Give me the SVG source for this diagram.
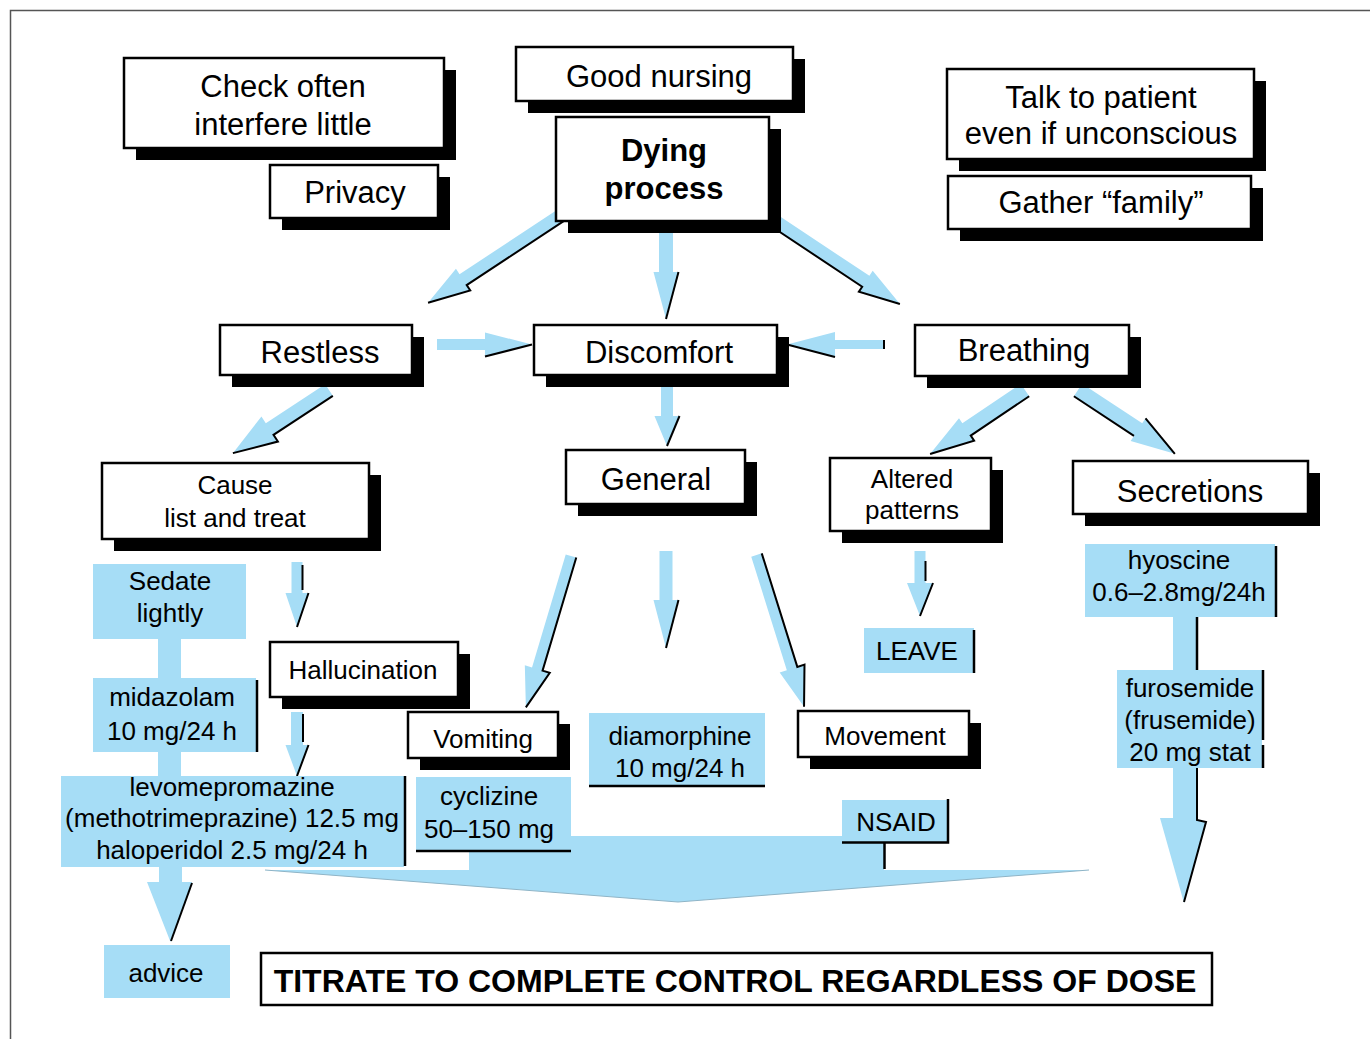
<svg xmlns="http://www.w3.org/2000/svg" width="1370" height="1039" viewBox="0 0 1370 1039">
<style>
.bx{fill:#fff;stroke:#000;stroke-width:2.5}
.sh{fill:#000}
.bl{fill:#a6ddf6}
.ar{fill:#a6ddf6}
.bk{fill:none;stroke:#000;stroke-width:2}
.ed{stroke:#000;stroke-width:2.5;fill:none}
.t{font-family:"Liberation Sans",Arial,Helvetica,sans-serif;text-anchor:middle;fill:#000}
.f31{font-size:31px}
.f26{font-size:26px}
.b{font-weight:bold}
</style>
<rect width="1370" height="1039" fill="#fff"/>
<path d="M1370,10.5 H10.5 V1039" fill="none" stroke="#555" stroke-width="1.5"/>

<g id="connectors">
  <!-- big bottom arrow -->
  <path class="ar" d="M469,836 H884 V870 H1089 L678,902 L265,870 H469 Z"/>
  <path d="M265,870 L678,902 L1089,870" fill="none" stroke="#8fb4c6" stroke-width="1"/>
  <line class="ed" x1="884.5" y1="842" x2="884.5" y2="869"/>

  <!-- drug column bars -->
  <rect class="bl" x="158" y="636" width="23" height="44"/>
  <rect class="bl" x="158" y="750" width="23" height="28"/>
  <path class="ar" d="M159,864 H182 V882 H192 L170.5,942 L147,882 H159 Z"/>
  <path class="bk" d="M192,883 L171,941"/>
  <rect class="bl" x="1173" y="615" width="24" height="58"/>
  <line class="ed" x1="1197" y1="617" x2="1197" y2="670"/>
  <path class="ar" d="M1173,766 H1197 V820 L1206,822 L1184,903 L1160,818 H1173 Z"/>
  <path class="bk" d="M1197,768 V820 L1206,822 L1184,902"/>

  <!-- Dying -> Restless -->
  <g transform="translate(590,196) rotate(146.6)">
    <path class="ar" d="M0,-6.5 H152 V-13 L194,0 L152,13 V6.5 H0 Z"/>
    <path class="bk" d="M0,-6.5 H152 V-13 L194,0"/>
  </g>
  <!-- Dying -> Discomfort -->
  <g transform="translate(666,225) rotate(90)">
    <path class="ar" d="M0,-7 H47 V-12.5 L94,0 L47,12.5 V7 H0 Z"/>
    <path class="bk" d="M47,-12.5 L94,0"/>
  </g>
  <!-- Dying -> Breathing -->
  <g transform="translate(760,211) rotate(33.6)">
    <path class="ar" d="M0,-6.5 H127 V-12.5 L168,0 L127,12.5 V6.5 H0 Z"/>
    <path class="bk" d="M0,6.5 H127 V12.5 L168,0" stroke-width="1.5"/>
  </g>
  <!-- Restless -> Discomfort -->
  <g transform="translate(437,344.5)">
    <path class="ar" d="M0,-5.5 H48 V-12 L95,0 L48,12 V5.5 H0 Z"/>
    <path class="bk" d="M48,12 L95,0"/>
  </g>
  <!-- Breathing -> Discomfort -->
  <g transform="translate(884,344.5) rotate(180)">
    <path class="ar" d="M0,-4.5 H49 V-12.5 L97,0 L49,12.5 V4.5 H0 Z"/>
    <path class="bk" d="M49,-12.5 L97,0 M0,-4.5 V4.5"/>
  </g>
  <!-- Discomfort -> General -->
  <g transform="translate(667,380) rotate(90)">
    <path class="ar" d="M0,-6 H36 V-12.5 L66,0 L36,12.5 V6 H0 Z"/>
    <path class="bk" d="M36,-12.5 L66,0"/>
  </g>
  <!-- Restless -> Cause -->
  <g transform="translate(329,390) rotate(146.7)">
    <path class="ar" d="M0,-7 H71 V-15 L115,0 L71,15 V7 H0 Z"/>
    <path class="bk" d="M0,-7 H71 V-15 L115,0"/>
  </g>
  <!-- Cause -> Hallucination -->
  <g transform="translate(297,562) rotate(90)">
    <path class="ar" d="M0,-5.5 H31 V-11.5 L65,0 L31,11.5 V5.5 H0 Z"/>
    <path class="bk" d="M3,-5.5 H28 M31,-11.5 L65,0"/>
  </g>
  <!-- Hallucination -> levomepromazine -->
  <g transform="translate(297,712) rotate(90)">
    <path class="ar" d="M0,-6 H33 V-11.5 L64,0 L33,11.5 V6 H0 Z"/>
    <path class="bk" d="M2,-6 H30 M33,-11.5 L64,0"/>
  </g>
  <!-- General -> Vomiting -->
  <g transform="translate(571,556) rotate(106.6)">
    <path class="ar" d="M0,-5.5 H118 V-13 L158,0 L118,13 V5.5 H0 Z"/>
    <path class="bk" d="M0,-5.5 H118 V-13 L158,0"/>
  </g>
  <!-- General -> diamorphine -->
  <g transform="translate(666,551) rotate(90)">
    <path class="ar" d="M0,-6.5 H49 V-12.5 L97,0 L49,12.5 V6.5 H0 Z"/>
    <path class="bk" d="M49,-12.5 L97,0"/>
  </g>
  <!-- General -> Movement -->
  <g transform="translate(756.5,555) rotate(72.6)">
    <path class="ar" d="M0,-5.5 H119 V-13 L159,0 L119,13 V5.5 H0 Z"/>
    <path class="bk" d="M0,-5.5 H119 V-13 L159,0"/>
  </g>
  <!-- Breathing -> Altered -->
  <g transform="translate(1025,390) rotate(146)">
    <path class="ar" d="M0,-7.5 H70.5 V-13.5 L114.5,0 L70.5,13.5 V7.5 H0 Z"/>
    <path class="bk" d="M0,-7.5 H70.5 V-13.5 L114.5,0"/>
  </g>
  <!-- Breathing -> Secretions -->
  <g transform="translate(1078,390) rotate(33.4)">
    <path class="ar" d="M0,-7.5 H72 V-13.5 L116,0 L72,13.5 V7.5 H0 Z"/>
    <path class="bk" d="M0,7.5 H72 M72,-13.5 L116,0"/>
  </g>
  <!-- Altered -> LEAVE -->
  <g transform="translate(920,551) rotate(90)">
    <path class="ar" d="M0,-5.5 H32 V-13 L65,0 L32,13 V5.5 H0 Z"/>
    <path class="bk" d="M10,-5.5 H30 M32,-13 L65,0"/>
  </g>
</g>

<g id="n-check"><rect class="sh" x="136" y="70" width="320" height="90"/><rect class="bx" x="124" y="58" width="320" height="90"/>
  <text class="t f31" x="283" y="97">Check often</text><text class="t f31" x="283" y="135">interfere little</text></g>
<g id="n-privacy"><rect class="sh" x="282" y="177" width="168" height="53"/><rect class="bx" x="270" y="165" width="168" height="53"/>
  <text class="t f31" x="355" y="203">Privacy</text></g>
<g id="n-good"><rect class="sh" x="528" y="59" width="277" height="54"/><rect class="bx" x="516" y="47" width="277" height="54"/>
  <text class="t f31" x="659" y="87">Good nursing</text></g>
<g id="n-dying"><rect class="sh" x="568" y="129" width="213" height="104"/><rect class="bx" x="556" y="117" width="213" height="104"/>
  <text class="t f31 b" x="664" y="161">Dying</text><text class="t f31 b" x="664" y="199">process</text></g>
<g id="n-talk"><rect class="sh" x="959" y="81" width="307" height="90"/><rect class="bx" x="947" y="69" width="307" height="90"/>
  <text class="t f31" x="1101" y="108">Talk to patient</text><text class="t f31" x="1101" y="144">even if unconscious</text></g>
<g id="n-gather"><rect class="sh" x="960" y="188" width="303" height="53"/><rect class="bx" x="948" y="176" width="303" height="53"/>
  <text class="t f31" x="1101" y="213">Gather “family”</text></g>
<g id="n-restless"><rect class="sh" x="232" y="337" width="192" height="50"/><rect class="bx" x="220" y="325" width="192" height="50"/>
  <text class="t f31" x="320" y="363">Restless</text></g>
<g id="n-discomfort"><rect class="sh" x="546" y="337" width="243" height="50"/><rect class="bx" x="534" y="325" width="243" height="50"/>
  <text class="t f31" x="659" y="363">Discomfort</text></g>
<g id="n-breathing"><rect class="sh" x="927" y="337" width="214" height="51"/><rect class="bx" x="915" y="325" width="214" height="51"/>
  <text class="t f31" x="1024" y="361">Breathing</text></g>
<g id="n-cause"><rect class="sh" x="114" y="475" width="267" height="76"/><rect class="bx" x="102" y="463" width="267" height="76"/>
  <text class="t f26" x="235" y="494">Cause</text><text class="t f26" x="235" y="527">list and treat</text></g>
<g id="n-general"><rect class="sh" x="578" y="462" width="179" height="54"/><rect class="bx" x="566" y="450" width="179" height="54"/>
  <text class="t f31" x="656" y="490">General</text></g>
<g id="n-altered"><rect class="sh" x="842" y="470" width="161" height="73"/><rect class="bx" x="830" y="458" width="161" height="73"/>
  <text class="t f26" x="912" y="488">Altered</text><text class="t f26" x="912" y="519">patterns</text></g>
<g id="n-secretions"><rect class="sh" x="1085" y="473" width="235" height="53"/><rect class="bx" x="1073" y="461" width="235" height="53"/>
  <text class="t f31" x="1190" y="502">Secretions</text></g>
<g id="n-halluc"><rect class="sh" x="282" y="654" width="188" height="55"/><rect class="bx" x="270" y="642" width="188" height="55"/>
  <text class="t f26" x="363" y="679">Hallucination</text></g>
<g id="n-vomiting"><rect class="sh" x="420" y="724" width="150" height="46"/><rect class="bx" x="408" y="712" width="150" height="46"/>
  <text class="t f26" x="483" y="748">Vomiting</text></g>
<g id="n-movement"><rect class="sh" x="810" y="723" width="171" height="46"/><rect class="bx" x="798" y="711" width="171" height="46"/>
  <text class="t f26" x="885" y="745">Movement</text></g>

<g id="n-sedate"><rect class="bl" x="93" y="564" width="153" height="75"/>
  <text class="t f26" x="170" y="590">Sedate</text><text class="t f26" x="170" y="622">lightly</text></g>
<g id="n-midazolam"><rect class="bl" x="93" y="678" width="163" height="74"/><line class="ed" x1="257" y1="680" x2="257" y2="752"/>
  <text class="t f26" x="172" y="706">midazolam</text><text class="t f26" x="172" y="740">10 mg/24 h</text></g>
<g id="n-levo"><rect class="bl" x="61" y="776" width="343" height="91"/><line class="ed" x1="405" y1="776" x2="405" y2="866"/>
  <text class="t f26" x="232" y="796">levomepromazine</text><text class="t f26" x="232" y="827">(methotrimeprazine) 12.5 mg</text><text class="t f26" x="232" y="859">haloperidol 2.5 mg/24 h</text></g>
<g id="n-advice"><rect class="bl" x="104" y="945" width="126" height="53"/>
  <text class="t f26" x="166" y="982">advice</text></g>
<g id="n-cyclizine"><rect class="bl" x="416" y="777" width="155" height="74"/><line class="ed" x1="416" y1="851" x2="571" y2="851"/>
  <text class="t f26" x="489" y="805">cyclizine</text><text class="t f26" x="489" y="838">50–150 mg</text></g>
<g id="n-diamorphine"><rect class="bl" x="589" y="713" width="176" height="73"/><line class="ed" x1="589" y1="786" x2="765" y2="786"/>
  <text class="t f26" x="680" y="745">diamorphine</text><text class="t f26" x="680" y="777">10 mg/24 h</text></g>
<g id="n-leave"><rect class="bl" x="864" y="628" width="110" height="45"/><line class="ed" x1="974" y1="630" x2="974" y2="673"/>
  <text class="t f26" x="917" y="660">LEAVE</text></g>
<g id="n-nsaid"><rect class="bl" x="842" y="800" width="106" height="42"/><path class="ed" d="M948,799 V842.5 H842"/>
  <text class="t f26" x="896" y="831">NSAID</text></g>
<g id="n-hyoscine"><rect class="bl" x="1085" y="544" width="190" height="73"/><line class="ed" x1="1276" y1="546" x2="1276" y2="617"/>
  <text class="t f26" x="1179" y="569">hyoscine</text><text class="t f26" x="1179" y="601">0.6–2.8mg/24h</text></g>
<g id="n-furosemide"><rect class="bl" x="1117" y="670" width="145" height="98"/><path class="ed" d="M1263,670 V740 M1263,745 V768"/>
  <text class="t f26" x="1190" y="697">furosemide</text><text class="t f26" x="1190" y="729">(frusemide)</text><text class="t f26" x="1190" y="761">20 mg stat</text></g>

<g id="n-titrate"><rect class="bx" x="261" y="953" width="951" height="52"/>
  <text class="t b" style="font-size:32px" x="735" y="992">TITRATE TO COMPLETE CONTROL REGARDLESS OF DOSE</text></g>
</svg>
